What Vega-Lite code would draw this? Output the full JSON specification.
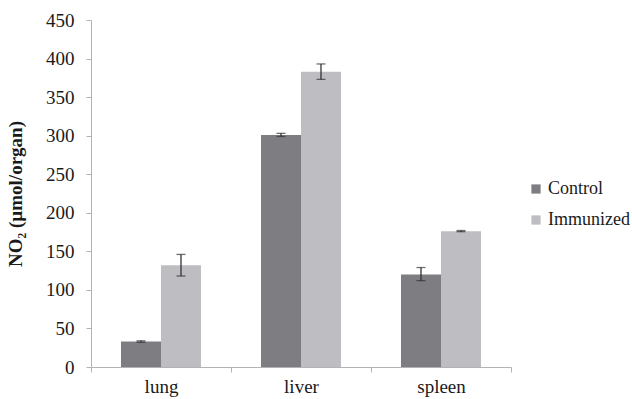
{
  "$schema": "https://vega.github.io/schema/vega-lite/v6.json",
  "autosize": "none",
  "width": 420,
  "height": 347,
  "padding": {"left": 91, "top": 20, "right": 121, "bottom": 32},
  "background": "white",
  "config": {
    "view": {"stroke": null},
    "font": "Times New Roman, Liberation Serif, DejaVu Serif, serif",
    "axis": {"labelFont": "Times New Roman, Liberation Serif, DejaVu Serif, serif", "titleFont": "Times New Roman, Liberation Serif, DejaVu Serif, serif"},
    "legend": {"labelFont": "Times New Roman, Liberation Serif, DejaVu Serif, serif"},
    "axisY": {
      "values": [0, 50, 100, 150, 200, 250, 300, 350, 400, 450], "labelOverlap": false,
      "grid": false, "domainColor": "#b3b3b3", "tickColor": "#b3b3b3", "tickSize": 5,
      "labelFontSize": 19, "labelColor": "#1a1a1a", "labelPadding": 12,
      "titleFontSize": 19, "titleFontWeight": "bold", "titleColor": "#1a1a1a", "titlePadding": 20
    }
  },
  "data": {
    "values": [
      {"organ": "lung", "group": "Control", "value": 33, "lo": 32, "hi": 34},
      {"organ": "lung", "group": "Immunized", "value": 132, "lo": 118, "hi": 146},
      {"organ": "liver", "group": "Control", "value": 301, "lo": 299, "hi": 303},
      {"organ": "liver", "group": "Immunized", "value": 383, "lo": 373, "hi": 393},
      {"organ": "spleen", "group": "Control", "value": 120, "lo": 112, "hi": 129},
      {"organ": "spleen", "group": "Immunized", "value": 176, "lo": 175.5, "hi": 177}
    ]
  },
  "encoding": {
    "x": {
      "field": "organ", "type": "nominal", "sort": ["lung", "liver", "spleen"],
      "scale": {"paddingInner": 0, "paddingOuter": 0},
      "axis": {
        "title": null, "labelAngle": 0, "tickBand": "extent",
        "domainColor": "#b3b3b3", "tickColor": "#b3b3b3", "tickSize": 5,
        "labelFontSize": 19, "labelColor": "#1a1a1a",
        "labelPadding": 5
      }
    },
    "xOffset": {
      "field": "group", "type": "nominal", "sort": ["Control", "Immunized"],
      "scale": {"paddingInner": 0, "paddingOuter": 0.75}
    }
  },
  "layer": [
    {
      "mark": {"type": "bar"},
      "encoding": {
        "y": {
          "field": "value", "type": "quantitative",
          "scale": {"domain": [0, 450], "nice": false},
          "axis": {"title": "NO₂ (µmol/organ)", "values": [0, 50, 100, 150, 200, 250, 300, 350, 400, 450]}
        },
        "color": {
          "field": "group", "type": "nominal",
          "scale": {"domain": ["Control", "Immunized"], "range": ["#7e7e82", "#bebec2"]},
          "legend": {
            "title": null, "orient": "none", "legendX": 436, "legendY": 160,
            "symbolType": "square", "symbolSize": 85, "symbolStrokeWidth": 0,
            "labelFontSize": 18, "labelColor": "#1a1a1a",
            "labelOffset": 3, "rowPadding": 13
          }
        }
      }
    },
    {
      "mark": {"type": "rule", "color": "#333333", "strokeWidth": 1.3},
      "encoding": {
        "y": {"field": "lo", "type": "quantitative", "axis": {"title": "NO₂ (µmol/organ)", "values": [0, 50, 100, 150, 200, 250, 300, 350, 400, 450]}},
        "y2": {"field": "hi"}
      }
    },
    {
      "mark": {"type": "tick", "color": "#333333", "thickness": 1.3, "size": 9},
      "encoding": {"y": {"field": "lo", "type": "quantitative", "axis": {"title": "NO₂ (µmol/organ)", "values": [0, 50, 100, 150, 200, 250, 300, 350, 400, 450]}}}
    },
    {
      "mark": {"type": "tick", "color": "#333333", "thickness": 1.3, "size": 9},
      "encoding": {"y": {"field": "hi", "type": "quantitative", "axis": {"title": "NO₂ (µmol/organ)", "values": [0, 50, 100, 150, 200, 250, 300, 350, 400, 450]}}}
    }
  ]
}
